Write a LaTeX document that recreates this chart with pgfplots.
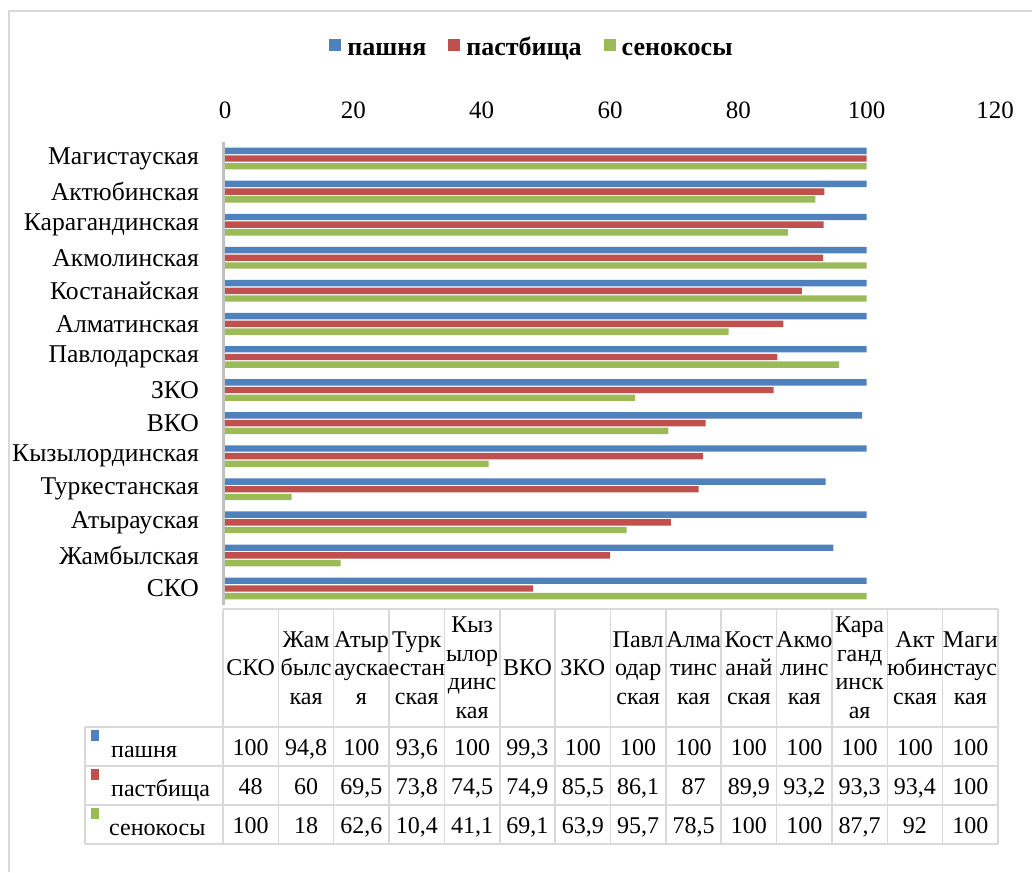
\documentclass[border=0pt]{standalone}
\usepackage{pgfplots}
\pgfplotsset{compat=1.18}
\usepackage{fontspec}
\setmainfont{Liberation Serif}
\definecolor{cB}{HTML}{4F81BD}
\definecolor{cR}{HTML}{C0504D}
\definecolor{cG}{HTML}{9BBB59}
\definecolor{gridc}{HTML}{D9D9D9}
\definecolor{axisgray}{HTML}{BFBFBF}
\newcommand\tf{\fontsize{24}{28.5}\selectfont}
\newcommand\yf{\fontsize{25.6}{30}\selectfont}
\newcommand\lf{\fontsize{26}{30}\selectfont}
\newcommand\xf{\fontsize{25}{30}\selectfont}
\begin{document}
\begin{tikzpicture}[x=1pt,y=1pt]
\useasboundingbox (0,0) rectangle (1032,-872);
\draw[gridc, line width=1.5pt] (9,-872) -- (9,-11) -- (1032,-11);
\begin{axis}[
  at={(225pt,-605pt)}, anchor=south west,
  scale only axis, width=770pt, height=463pt,
  clip=false,
  xbar, bar width=6.4pt,
  xmin=0, xmax=120, ymin=-0.5, ymax=13.5,
  xtick={0,20,...,120},
  ytick={0,...,13},
  yticklabels={СКО,Жамбылская,Атырауская,Туркестанская,Кызылординская,ВКО,ЗКО,Павлодарская,Алматинская,Костанайская,Акмолинская,Карагандинская,Актюбинская,Магистауская},
  axis line style={draw=none},
  major tick length=0pt,
  xticklabel pos=upper,
  /pgf/number format/assume math mode=true,
  xticklabel style={font=\xf, inner sep=0pt, yshift=23pt},
  yticklabel style={font=\yf, anchor=east, inner sep=0pt, xshift=-26pt},
  legend style={at={(0.3987,1.1987)}, anchor=center, draw=none, fill=none,
    legend columns=3, font=\bfseries\lf,
    nodes={text height=18pt, text depth=7pt},
    /tikz/every even column/.append style={column sep=20pt}},
  legend image code/.code={\fill[#1,draw=none] (0pt,-1pt) rectangle (12pt,11pt); \path (16pt,0pt);},
]
\addplot[fill=cB, draw=none, bar shift=7.7pt] coordinates {
(100,0) (94.8,1) (100,2) (93.6,3) (100,4) (99.3,5) (100,6) (100,7) (100,8) (100,9) (100,10) (100,11) (100,12) (100,13)};
\addplot[fill=cR, draw=none, bar shift=0pt] coordinates {
(48,0) (60,1) (69.5,2) (73.8,3) (74.5,4) (74.9,5) (85.5,6) (86.1,7) (87,8) (89.9,9) (93.2,10) (93.3,11) (93.4,12) (100,13)};
\addplot[fill=cG, draw=none, bar shift=-7.7pt] coordinates {
(100,0) (18,1) (62.6,2) (10.4,3) (41.1,4) (69.1,5) (63.9,6) (95.7,7) (78.5,8) (100,9) (100,10) (87.7,11) (92,12) (100,13)};
\legend{пашня,пастбища,сенокосы}
\draw[axisgray, line width=3pt] ([xshift=-2pt]rel axis cs:0,0) -- ([xshift=-2pt]rel axis cs:0,1);
\end{axis}
% data table
\def\colw{55.357}
\begin{scope}[gridc, line width=1.5pt]
\draw (223,-609) -- (998,-609);
\foreach \yy in {727,766,805,844} \draw (85,-\yy) -- (998,-\yy);
\foreach \k in {0,...,14} \draw ({223+\colw*\k},-609) -- ({223+\colw*\k},-844);
\draw (85,-727) -- (85,-844);
\end{scope}
\foreach \h [count=\i from 0] in {{СКО},{Жам\\былс\\кая},{Атыр\\ауска\\я},{Турк\\естан\\ская},{Кыз\\ылор\\динс\\кая},{ВКО},{ЗКО},{Павл\\одар\\ская},{Алма\\тинс\\кая},{Кост\\анай\\ская},{Акмо\\линс\\кая},{Кара\\ганд\\инск\\ая},{Акт\\юбин\\ская},{Маги\\стаус\\кая}}
  \node[align=center, font=\tf, inner sep=0pt] at ({223+\colw*(\i+0.5)},-668) {\h};
\foreach \v [count=\i from 0] in {100,{94,8},100,{93,6},100,{99,3},100,100,100,100,100,100,100,100}
  \node[anchor=base, font=\tf, inner sep=0pt] at ({223+\colw*(\i+0.5)},-755.5) {\v};
\foreach \v [count=\i from 0] in {48,60,{69,5},{73,8},{74,5},{74,9},{85,5},{86,1},87,{89,9},{93,2},{93,3},{93,4},100}
  \node[anchor=base, font=\tf, inner sep=0pt] at ({223+\colw*(\i+0.5)},-794.5) {\v};
\foreach \v [count=\i from 0] in {100,18,{62,6},{10,4},{41,1},{69,1},{63,9},{95,7},{78,5},100,100,{87,7},92,100}
  \node[anchor=base, font=\tf, inner sep=0pt] at ({223+\colw*(\i+0.5)},-833.5) {\v};
\fill[cB] (91,-730) rectangle (99,-741);
\fill[cR] (91,-769) rectangle (99,-780);
\fill[cG] (91,-808) rectangle (99,-819);
\node[anchor=base west, font=\tf, inner sep=0pt] at (111,-757) {пашня};
\node[anchor=base west, font=\tf, inner sep=0pt] at (111,-796) {пастбища};
\node[anchor=base west, font=\tf, inner sep=0pt] at (109,-835) {сенокосы};
\end{tikzpicture}
\end{document}
